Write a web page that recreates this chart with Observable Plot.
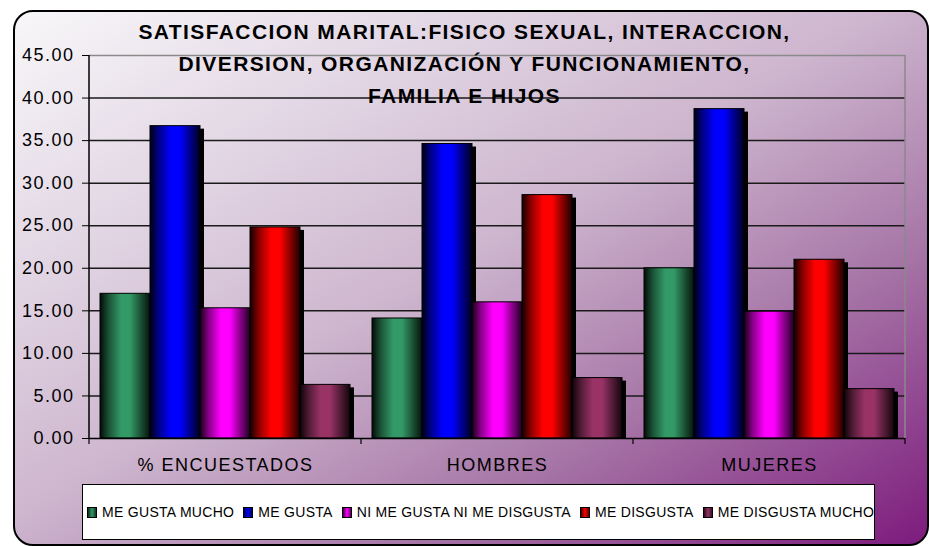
<!DOCTYPE html>
<html>
<head>
<meta charset="utf-8">
<script src="https://cdn.jsdelivr.net/npm/d3@7"></script>
<script src="https://cdn.jsdelivr.net/npm/@observablehq/plot@0.6"></script>
<style>
  html, body { margin: 0; padding: 0; background: #ffffff; }
  #wrap { position: relative; width: 929px; height: 546px; overflow: hidden; font-family: Arial, "Liberation Sans", sans-serif; }
  #bg { position: absolute; left: 13px; top: 10px; width: 912px; height: 532px; border: 2px solid #000; border-radius: 20px;
        background: linear-gradient(to bottom right, #f8f7f9 0%, #e2d6e4 25%, #cdb5ce 48%, #a675a6 72%, #7d1b7d 100%); }
  #chart { position: absolute; left: 0; top: 0; }
  #title { position: absolute; left: 0; top: 16px; width: 929px; text-align: center; font-weight: bold; font-size: 21px; letter-spacing: 1.4px; line-height: 32px; color: #000; pointer-events: none; }
  #legend { position: absolute; left: 82px; top: 484px; width: 791px; height: 54px; background: #fff; border: 1px solid #000; overflow: hidden;
            display: flex; align-items: center; white-space: nowrap; font-size: 14px; letter-spacing: 0.3px; color: #000; }
  #legend .item { display: inline-flex; align-items: center; margin-right: 9px; flex: none; }
  #legend .sw { display: inline-block; width: 8px; height: 9px; border: 1px solid #000; margin-right: 5px; }
</style>
</head>
<body>
<div id="wrap">
  <div id="bg"></div>
  <div id="chart"></div>
  <div id="title">SATISFACCION MARITAL:FISICO SEXUAL, INTERACCION,<br>DIVERSION, ORGANIZACIÓN Y FUNCIONAMIENTO,<br>FAMILIA E HIJOS</div>
  <div id="legend"></div>
</div>
<script>
const categories = ["% ENCUESTADOS", "HOMBRES", "MUJERES"];
const series = ["ME GUSTA MUCHO", "ME GUSTA", "NI ME GUSTA NI ME DISGUSTA", "ME DISGUSTA", "ME DISGUSTA MUCHO"];
const encuestados = [17.0, 36.7, 15.3, 24.8, 6.3];
const hombres = [14.1, 34.6, 16.0, 28.6, 7.1];
const mujeres = [20.0, 38.7, 14.9, 21.0, 5.8];
const colors = ["#339966", "#0000ff", "#ff00ff", "#ff0000", "#993366"];
const yTicks = [0, 5, 10, 15, 20, 25, 30, 35, 40, 45];

const valuesByCategory = [encuestados, hombres, mujeres];
const data = [];
categories.forEach((c, i) => series.forEach((s, j) => data.push({cat: c, s, v: valuesByCategory[i][j]})));

const gradIds = colors.map((c, i) => `url(#bargrad${i})`);

const chart = Plot.plot({
  width: 929,
  height: 546,
  marginTop: 55,
  marginBottom: 108,
  marginLeft: 88,
  marginRight: 24,
  style: {background: "transparent", fontFamily: "Arial, 'Liberation Sans', sans-serif", fontSize: "18px", letterSpacing: "1.5px", color: "#000", overflow: "visible"},
  fx: {domain: categories, padding: 0, label: null, axis: "bottom", tickSize: 0, tickPadding: 20},
  x: {domain: series, paddingInner: 0, paddingOuter: 0.18, axis: null},
  y: {domain: [0, 45], ticks: yTicks, tickFormat: d3.format(".2f"), label: null, tickSize: 7, tickPadding: 8},
  color: {domain: series, range: gradIds},
  marks: [
    Plot.ruleY(yTicks.filter(d => d > 0 && d < 45), {stroke: "#1a1a1a", strokeWidth: 1.5}),
    Plot.ruleY([45], {stroke: "#8a8a8a", strokeWidth: 1.5}),
    Plot.barY(data, {fx: "cat", x: "s", y: "v", fill: "#000", dx: 4, insetTop: 3}),
    Plot.barY(data, {fx: "cat", x: "s", y: "v", fill: "s", stroke: "#000", strokeWidth: 1}),
    Plot.ruleY([0], {stroke: "#000", strokeWidth: 1.5})
  ]
});
document.getElementById("chart").appendChild(chart);

// gradients for the 3D-looking bars
const svg = d3.select(chart);
const defs = svg.insert("defs", ":first-child");
colors.forEach((c, i) => {
  const g = defs.append("linearGradient").attr("id", `bargrad${i}`).attr("x1", 0).attr("x2", 1).attr("y1", 0).attr("y2", 0);
  const mix = d3.interpolateRgb("#000", c);
  [[0, 0.08], [0.18, 0.55], [0.42, 1], [0.6, 1], [0.85, 0.45], [1, 0.12]].forEach(([o, t]) =>
    g.append("stop").attr("offset", o).attr("stop-color", mix(t)));
});

// axis lines, boundary ticks and plot-area border, from the plot's own scales
const fx = chart.scale("fx"), y = chart.scale("y");
const y0 = y.apply(0), yTop = y.apply(45);
const bounds = categories.map(c => fx.apply(c));
bounds.push(fx.apply(categories[categories.length - 1]) + fx.bandwidth);
const extra = svg.append("g");
extra.append("line").attr("x1", bounds[bounds.length - 1]).attr("x2", bounds[bounds.length - 1]).attr("y1", yTop).attr("y2", y0)
  .attr("stroke", "#8a8a8a").attr("stroke-width", 1.5);
extra.append("line").attr("x1", bounds[0]).attr("x2", bounds[0]).attr("y1", yTop).attr("y2", y0)
  .attr("stroke", "#000").attr("stroke-width", 1.5);
bounds.forEach(b => extra.append("line").attr("x1", b).attr("x2", b).attr("y1", y0).attr("y2", y0 + 6)
  .attr("stroke", "#000").attr("stroke-width", 1.2));

// legend
const legend = d3.select("#legend");
series.forEach((s, i) => {
  const it = legend.append("span").attr("class", "item");
  const mix = d3.interpolateRgb("#000", colors[i]);
  it.append("span").attr("class", "sw").style("background", `linear-gradient(to right, ${mix(0.25)}, ${colors[i]} 50%, ${mix(0.35)})`);
  it.append("span").text(s);
});
d3.select("#legend .item").style("margin-left", "4px");
</script>
</body>
</html>
